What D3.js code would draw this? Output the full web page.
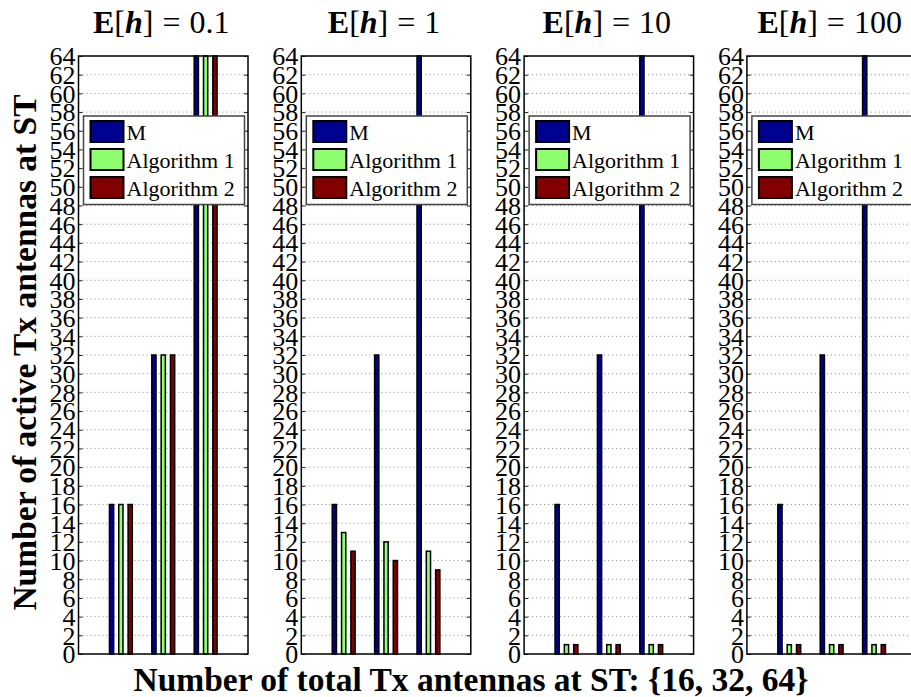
<!DOCTYPE html>
<html>
<head>
<meta charset="utf-8">
<script src="https://cdn.jsdelivr.net/npm/d3@7"></script>
<style>
  body { margin: 0; background: #fff; }
  svg { font-family: "Liberation Serif", "Times New Roman", serif; }
</style>
</head>
<body>
<div id="chart"></div>
<script>
// Chart data
const meanH = ["0.1", "1", "10", "100"];
const totalTx = [16, 32, 64];
const seriesNames = ["M", "Algorithm 1", "Algorithm 2"];
const seriesColors = ["#00008f", "#8fff70", "#800000"];
const mValues    = [[16, 32, 64], [16, 32, 64], [16, 32, 64], [16, 32, 64]];
const alg1Values = [[16, 32, 64], [13, 12, 11], [1, 1, 1], [1, 1, 1]];
const alg2Values = [[16, 32, 64], [11, 10, 9], [1, 1, 1], [1, 1, 1]];
const yTicks = d3.range(0, 65, 2);

// Sizes
const width = 911;
const height = 697;
const panelLeft = 78.5;
const panelStep = 222.8;
const panelW = 169.5;
const plotTop = 56;
const plotBottom = 654;
const barW = 0.135;  // in x units

const svg = d3.select("#chart")
  .append("svg")
  .attr("width", width)
  .attr("height", height);

svg.append("rect").attr("width", width).attr("height", height).attr("fill", "#fff");

const yScale = d3.scaleLinear().domain([0, 64]).range([plotBottom, plotTop]);
const subScale = d3.scalePoint().domain(seriesNames).range([-0.22, 0.22]);

meanH.forEach(function(h, p) {
  const x0 = panelLeft + p * panelStep;
  const xScale = d3.scaleLinear().domain([0, 4]).range([x0, x0 + panelW]);
  const g = svg.append("g");

  // dotted grid
  g.append("g")
    .selectAll("line")
    .data(yTicks.filter(d => d > 0 && d < 64))
    .enter()
    .append("line")
      .attr("x1", x0).attr("x2", x0 + panelW)
      .attr("y1", d => yScale(d)).attr("y2", d => yScale(d))
      .attr("stroke", "#8a8a8a")
      .attr("stroke-width", 1)
      .attr("stroke-dasharray", "1,3");

  // bars
  const rows = totalTx.map(function(t, i) {
    return [
      {s: seriesNames[0], v: mValues[p][i], i: i},
      {s: seriesNames[1], v: alg1Values[p][i], i: i},
      {s: seriesNames[2], v: alg2Values[p][i], i: i}
    ];
  }).flat();

  g.selectAll(".bar")
    .data(rows)
    .enter()
    .append("rect")
      .attr("class", "bar")
      .attr("x", d => xScale(d.i + 1 + subScale(d.s) - barW / 2) + 0.75)
      .attr("width", xScale(barW) - xScale(0) - 1.5)
      .attr("y", d => yScale(d.v))
      .attr("height", d => yScale(0) - yScale(d.v))
      .attr("fill", d => seriesColors[seriesNames.indexOf(d.s)])
      .attr("stroke", "#000")
      .attr("stroke-width", 1.5);

  // y axis, labels on left, inward ticks on both sides
  const axisL = g.append("g")
    .attr("transform", `translate(${x0},0)`)
    .call(d3.axisLeft(yScale).tickValues(yTicks).tickSize(-4).tickPadding(3));
  axisL.select(".domain").remove();
  axisL.selectAll(".tick line").attr("stroke", "#222").attr("stroke-width", 1);
  axisL.selectAll(".tick text")
    .attr("font-family", "Liberation Serif, Times New Roman, serif")
    .attr("font-size", "26px")
    .attr("fill", "#000")
    .attr("dy", "0.34em");

  const axisR = g.append("g")
    .attr("transform", `translate(${x0 + panelW},0)`)
    .call(d3.axisRight(yScale).tickValues(yTicks).tickSize(-4).tickFormat(""));
  axisR.select(".domain").remove();
  axisR.selectAll(".tick line").attr("stroke", "#222").attr("stroke-width", 1);

  // box
  g.append("rect")
    .attr("x", x0).attr("y", plotTop)
    .attr("width", panelW).attr("height", plotBottom - plotTop)
    .attr("fill", "none")
    .attr("stroke", "#000")
    .attr("stroke-width", 1.5);

  // title
  const title = g.append("text")
    .attr("x", x0 + panelW / 2 - 2)
    .attr("y", 33)
    .attr("text-anchor", "middle")
    .attr("font-size", "32px");
  title.append("tspan").attr("font-weight", "bold").text("E");
  title.append("tspan").text("[");
  title.append("tspan").attr("font-weight", "bold").attr("font-style", "italic").text("h");
  title.append("tspan").text("]");
  title.append("tspan").attr("dx", 9).text("=");
  title.append("tspan").attr("dx", 9).text(h);

  // legend
  const lg = g.append("g").attr("transform", `translate(${x0 + 5},116)`);
  lg.append("rect")
    .attr("width", 161).attr("height", 88.5)
    .attr("fill", "#fff")
    .attr("stroke", "#444")
    .attr("stroke-width", 1.5);
  seriesNames.forEach(function(s, k) {
    lg.append("rect")
      .attr("x", 7).attr("y", 5 + k * 28)
      .attr("width", 33).attr("height", 21)
      .attr("fill", seriesColors[k])
      .attr("stroke", "#000")
      .attr("stroke-width", 2);
    lg.append("text")
      .attr("x", 43).attr("y", 24 + k * 28)
      .attr("font-size", "22px")
      .text(s);
  });
});

// axis titles
svg.append("text")
  .attr("transform", "translate(36,352.5) rotate(-90)")
  .attr("text-anchor", "middle")
  .attr("font-weight", "bold")
  .attr("font-size", "33.5px")
  .text("Number of active Tx antennas at ST");

svg.append("text")
  .attr("x", 471)
  .attr("y", 691)
  .attr("text-anchor", "middle")
  .attr("font-weight", "bold")
  .attr("font-size", "33.5px")
  .text("Number of total Tx antennas at ST: {16, 32, 64}");
</script>
</body>
</html>
